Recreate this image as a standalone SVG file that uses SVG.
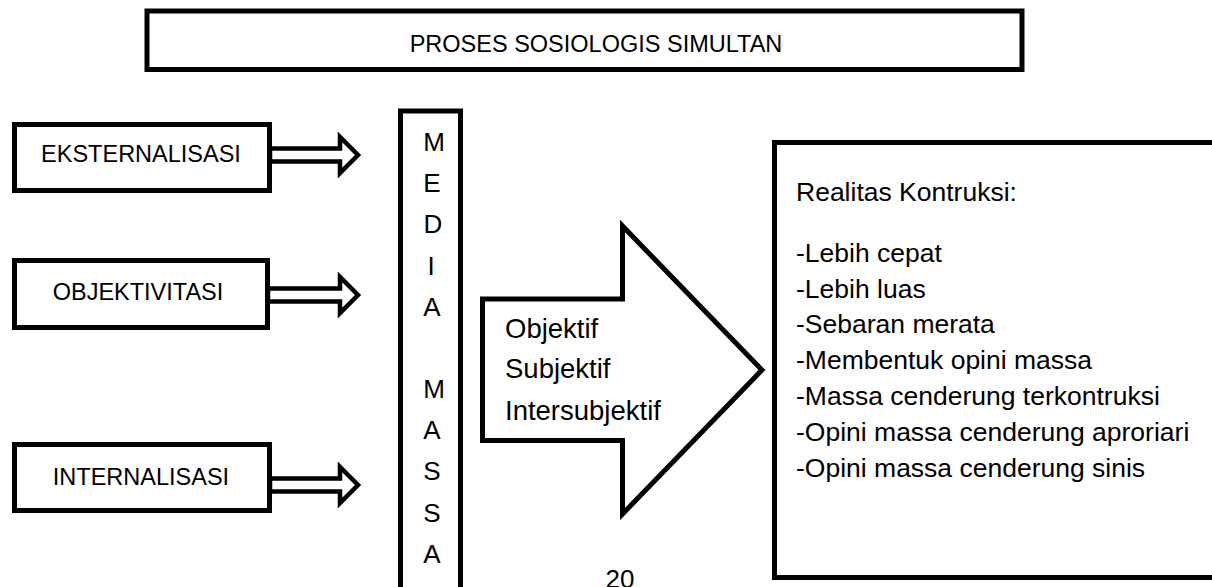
<svg xmlns="http://www.w3.org/2000/svg" width="1212" height="587" viewBox="0 0 1212 587">
<style>
.box{fill:#fff;stroke:#000;stroke-width:5}
.arr{fill:#fff;stroke:#000;stroke-width:4.5;stroke-linejoin:miter}
.t{font-family:"Liberation Sans",Arial,sans-serif;fill:#000}
.cap{font-size:23.5px;text-anchor:middle}
.m{font-size:26px}
.l{font-size:27.5px}
.r{font-size:26.5px}
</style>
<rect width="1212" height="587" fill="#fff"/>
<g id="title">
<rect class="box" x="147" y="11" width="875" height="58.5"/>
<text class="t cap" x="596" y="52">PROSES SOSIOLOGIS SIMULTAN</text>
</g>
<g id="eksternalisasi">
<rect class="box" x="14.5" y="124.5" width="255" height="66"/>
<text class="t cap" x="141" y="162">EKSTERNALISASI</text>
</g>
<g id="objektivitasi">
<rect class="box" x="14.5" y="260.5" width="253" height="67"/>
<text class="t cap" x="138" y="300">OBJEKTIVITASI</text>
</g>
<g id="internalisasi">
<rect class="box" x="14.5" y="444.5" width="255" height="66"/>
<text class="t cap" x="141" y="485">INTERNALISASI</text>
</g>
<g id="media">
<rect class="box" x="400.5" y="111" width="60" height="500"/>
<g class="t m" text-anchor="middle">
<text x="434" y="151">M</text>
<text x="432" y="192">E</text>
<text x="433" y="233">D</text>
<text x="431" y="275">I</text>
<text x="432" y="316">A</text>
<text x="434" y="398">M</text>
<text x="432" y="439">A</text>
<text x="432" y="480">S</text>
<text x="432" y="522">S</text>
<text x="432" y="563">A</text>
</g>
</g>
<g id="connectors">
<polygon class="arr" points="270,148.5 340,148.5 340,137 358,155 340,173 340,161.5 270,161.5"/>
<polygon class="arr" points="268,288.5 340,288.5 340,277 358,295 340,313 340,301.5 268,301.5"/>
<polygon class="arr" points="270,478.5 340,478.5 340,467 358,485 340,503 340,491.5 270,491.5"/>
</g>
<g id="process">
<polygon class="box" points="482.5,299 622.5,299 622.5,226 762,370 622.5,514 622.5,440.5 482.5,440.5"/>
<g class="t l">
<text x="505" y="338">Objektif</text>
<text x="505" y="378">Subjektif</text>
<text x="505" y="420">Intersubjektif</text>
</g>
</g>
<g id="realitas">
<rect class="box" x="774.5" y="142.5" width="460" height="435"/>
<g class="t r">
<text x="796" y="201">Realitas Kontruksi:</text>
<text x="796" y="262">-Lebih cepat</text>
<text x="796" y="298">-Lebih luas</text>
<text x="796" y="333">-Sebaran merata</text>
<text x="796" y="369">-Membentuk opini massa</text>
<text x="796" y="405">-Massa cenderung terkontruksi</text>
<text x="796" y="441">-Opini massa cenderung aproriari</text>
<text x="796" y="477">-Opini massa cenderung sinis</text>
</g>
</g>
<text class="t m" x="620" y="588" text-anchor="middle">20</text>
</svg>
